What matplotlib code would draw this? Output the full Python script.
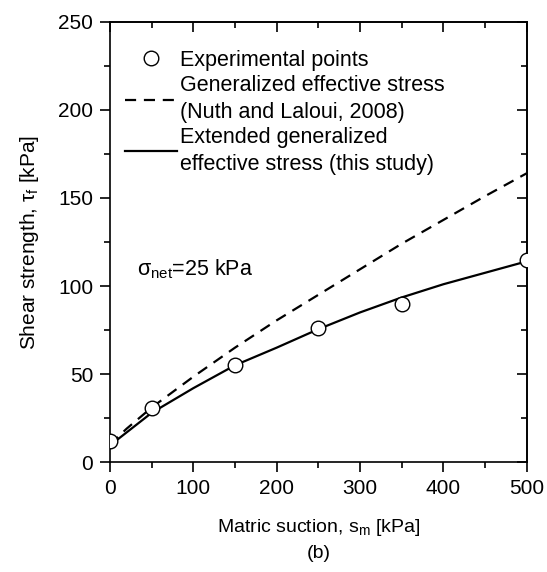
import numpy as np
import matplotlib.pyplot as plt
from matplotlib.ticker import MultipleLocator

plt.rcParams['font.family'] = ['Liberation Sans', 'DejaVu Sans']
plt.rcParams['mathtext.fontset'] = 'custom'
plt.rcParams['mathtext.rm'] = 'Liberation Sans'
plt.rcParams['mathtext.it'] = 'Liberation Sans'
plt.rcParams['font.size'] = 15

# experimental points
exp_s = [0, 50, 150, 250, 350, 500]
exp_tau = [12, 31, 55, 76, 90, 115]

# Nuth and Laloui (2008)
gen_s = [0, 20, 50, 100, 150, 200, 250, 300, 350, 400, 450, 500]
gen_tau = [10, 19, 31, 48.5, 65, 80.5, 95, 109.5, 124, 137.5, 151, 164]

# this study
ext_s = [0, 50, 100, 150, 200, 250, 300, 350, 400, 450, 500]
ext_tau = [9.5, 28, 42, 55, 65, 75.5, 85, 93.5, 101, 107.5, 114]

fig = plt.figure(figsize=(5.47, 5.72), dpi=100)
ax = fig.add_axes([0.201, 0.192, 0.762, 0.77])

ax.plot(exp_s, exp_tau, 'o', ms=10.5, mfc='white', mec='black', mew=1.0,
        label='Experimental points', zorder=3)
ax.plot(gen_s, gen_tau, color='black', lw=1.6, dashes=(5, 3.5),
        label='Generalized effective stress\n(Nuth and Laloui, 2008)')
ax.plot(ext_s, ext_tau, color='black', lw=1.6,
        label='Extended generalized\neffective stress (this study)')

ax.set_xlim(0, 500)
ax.set_ylim(0, 250)
ax.xaxis.set_major_locator(MultipleLocator(100))
ax.xaxis.set_minor_locator(MultipleLocator(50))
ax.yaxis.set_major_locator(MultipleLocator(50))
ax.yaxis.set_minor_locator(MultipleLocator(25))
ax.tick_params(which='both', direction='out', width=1.2, labelsize=15, pad=5)
ax.tick_params(which='major', length=7)
ax.tick_params(which='minor', length=4)
for sp in ax.spines.values():
    sp.set_linewidth(1.2)

# mirrored ticks pointing inward on top and right
top = ax.secondary_xaxis('top')
right = ax.secondary_yaxis('right')
for sec in (top, right):
    sec.tick_params(which='both', direction='in', width=1.2, labelsize=0)
    sec.tick_params(which='major', length=7)
    sec.tick_params(which='minor', length=4)
    sec.spines[:].set_linewidth(1.2)
top.xaxis.set_major_locator(MultipleLocator(100))
top.xaxis.set_minor_locator(MultipleLocator(50))
top.set_xticklabels([])
right.yaxis.set_major_locator(MultipleLocator(50))
right.yaxis.set_minor_locator(MultipleLocator(25))
right.set_yticklabels([])

ax.set_xlabel('Matric suction, s$_\\mathrm{m}$ [kPa]\n(b)', labelpad=14,
              linespacing=1.55, fontsize=14)
ax.set_ylabel('Shear strength, $\\tau_\\mathrm{f}$ [kPa]', labelpad=12,
              fontsize=15)

ax.text(32, 106, '$\\sigma_\\mathrm{net}$=25 kPa', fontsize=15.5)

leg = ax.legend(loc='upper left', bbox_to_anchor=(0.0, 0.97), frameon=False,
                handlelength=2.4, handletextpad=0.15, labelspacing=0.2,
                fontsize=15.5, borderaxespad=0.3)
for t in leg.get_texts():
    t.set_linespacing(1.35)

fig.savefig('out.png', dpi=100)
